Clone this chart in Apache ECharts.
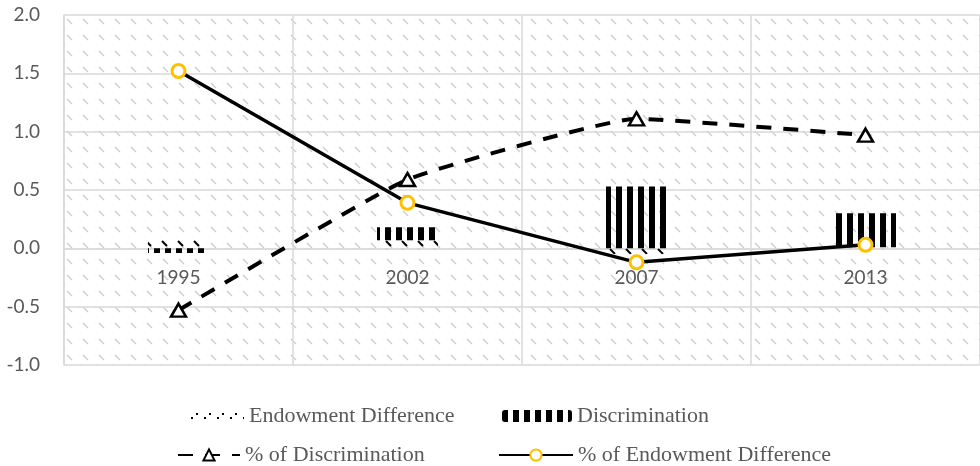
<!DOCTYPE html>
<html>
<head>
<meta charset="utf-8">
<script src="https://cdn.jsdelivr.net/npm/echarts@6/dist/echarts.min.js"></script>
<style>
  html, body { margin: 0; padding: 0; background: #ffffff; }
  #chart { width: 980px; height: 466px; }
</style>
</head>
<body>
<div id="chart"></div>
<script>
// Survey years on the category axis
const years = ['1995', '2002', '2007', '2013'];

// Stacked decomposition components
const endowmentDifference = [0.08, 0.07, -0.05, 0.01];
const discrimination = [-0.04, 0.11, 0.53, 0.29];

// Shares of the total gap
const pctDiscrimination = [-0.53, 0.59, 1.11, 0.97];
const pctEndowmentDifference = [1.52, 0.39, -0.12, 0.03];

// Value axis range
const yMin = -1.0;
const yMax = 2.0;
const yStep = 0.5;

const seriesNames = {
  endow: 'Endowment Difference',
  disc: 'Discrimination',
  pctDisc: '% of Discrimination',
  pctEndow: '% of Endowment Difference'
};

// Plot box
const gridTop = 15;
const gridBottom = 101;
const chartHeight = 466;
const plotHeight = chartHeight - gridTop - gridBottom;
// Lift the category labels up to the zero line
const zeroLift = -plotHeight * (0 - yMin) / (yMax - yMin);

// Small repeating canvas tiles used as fills
function makePattern(w, h, draw) {
  const c = document.createElement('canvas');
  c.width = w;
  c.height = h;
  draw(c.getContext('2d'));
  return { image: c, repeat: 'repeat' };
}

// Light dashed downward-diagonal hatch behind the plot
const plotHatch = makePattern(16, 16, g => {
  g.strokeStyle = '#cfcfcf';
  g.lineWidth = 1.4;
  g.beginPath();
  g.moveTo(3, 3);
  g.lineTo(8, 8);
  g.stroke();
});

// Dark dashed diagonal fill for endowment bars
const endowFill = makePattern(16, 8, g => {
  g.strokeStyle = '#000000';
  g.lineWidth = 2;
  g.beginPath();
  g.moveTo(2, 1);
  g.lineTo(7, 6);
  g.stroke();
});

// Sparse dotted swatch for the endowment legend entry
const endowLegendFill = makePattern(13, 12, g => {
  g.fillStyle = '#000000';
  g.fillRect(3, 7, 2, 2);
  g.fillRect(8, 3, 2, 2);
});

// Wide vertical stripes for discrimination bars
const discFill = makePattern(11, 4, g => {
  g.fillStyle = '#000000';
  g.fillRect(0, 0, 6, 4);
});

const axisFont = { fontFamily: 'Lato', fontSize: 19, color: '#595959' };
const legendText = { fontFamily: 'Liberation Serif', fontSize: 22, color: '#595959' };

const chart = echarts.init(document.getElementById('chart'), null, { renderer: 'canvas' });

chart.setOption({
  animation: false,
  backgroundColor: '#ffffff',
  grid: {
    left: 64, right: 0, top: gridTop, bottom: gridBottom,
    show: true,
    backgroundColor: plotHatch,
    borderWidth: 0
  },
  legend: [
    {
      data: [{ name: seriesNames.endow, itemStyle: { color: endowLegendFill } }],
      left: 183, top: 400,
      itemWidth: 56, itemHeight: 12, textStyle: legendText
    },
    {
      data: [seriesNames.disc], left: 497, top: 400,
      itemWidth: 70, itemHeight: 12, textStyle: legendText
    },
    {
      data: [seriesNames.pctDisc], left: 172, top: 439,
      itemWidth: 62, itemHeight: 14, textStyle: legendText
    },
    {
      data: [seriesNames.pctEndow], left: 493, top: 439,
      itemWidth: 74, itemHeight: 14, textStyle: legendText
    }
  ],
  xAxis: {
    type: 'category',
    data: years,
    boundaryGap: true,
    offset: zeroLift,
    axisLine: { onZero: false, lineStyle: { color: '#d9d9d9', width: 1.5 } },
    axisTick: { show: false },
    axisLabel: Object.assign({ margin: 20 }, axisFont),
    splitLine: { show: true, interval: 0, lineStyle: { color: '#d9d9d9', width: 1.5 } }
  },
  yAxis: {
    type: 'value',
    min: yMin,
    max: yMax,
    interval: yStep,
    axisLine: { show: true, lineStyle: { color: '#d9d9d9', width: 1.5 } },
    axisTick: { show: false },
    axisLabel: Object.assign({
      margin: 24,
      formatter: v => v.toFixed(1)
    }, axisFont),
    splitLine: { show: true, lineStyle: { color: '#d9d9d9', width: 1.5 } }
  },
  series: [
    {
      name: seriesNames.endow,
      type: 'bar',
      stack: 'gap',
      barWidth: 61,
      data: endowmentDifference,
      itemStyle: { color: endowFill }
    },
    {
      name: seriesNames.disc,
      type: 'bar',
      stack: 'gap',
      barWidth: 61,
      data: discrimination,
      itemStyle: { color: discFill }
    },
    {
      name: seriesNames.pctDisc,
      type: 'line',
      data: pctDiscrimination,
      smooth: 0.12,
      symbol: 'triangle',
      symbolSize: [15, 13],
      lineStyle: { color: '#000000', width: 4, type: [15, 12] },
      itemStyle: { color: '#ffffff', borderColor: '#000000', borderWidth: 2.5 },
      z: 3
    },
    {
      name: seriesNames.pctEndow,
      type: 'line',
      data: pctEndowmentDifference,
      symbol: 'circle',
      symbolSize: 13,
      lineStyle: { color: '#000000', width: 3.5 },
      itemStyle: { color: '#ffffff', borderColor: '#ffc000', borderWidth: 3 },
      z: 4
    }
  ]
});
</script>
</body>
</html>
